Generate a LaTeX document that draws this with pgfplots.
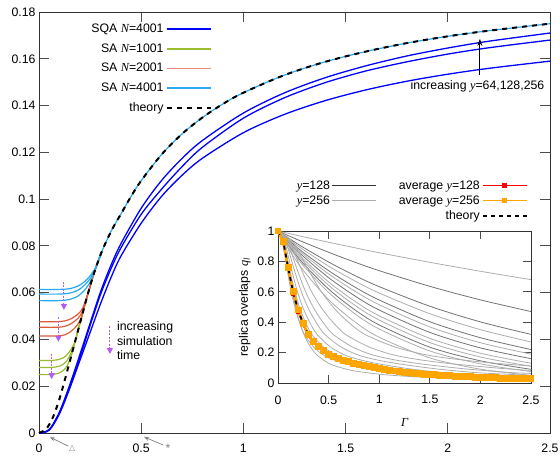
\documentclass[border=0pt]{standalone}
\usepackage{fontspec}
\setmainfont{Liberation Sans}
\newfontfamily\tms{Liberation Serif}
\newfontfamily\djv{DejaVu Sans}
\usepackage{pgfplots}
\pgfplotsset{compat=1.18}
\usepackage{pgfplotstable}
\usetikzlibrary{arrows.meta}

\definecolor{colSQA}{RGB}{0,0,255}
\definecolor{colSAone}{RGB}{155,187,49}
\definecolor{colSAtwo}{RGB}{222,90,60}
\definecolor{colSAfour}{RGB}{40,170,240}
\definecolor{colArrow}{RGB}{180,90,250}
\definecolor{colAvg}{RGB}{255,165,0}
\definecolor{colDark}{gray}{0.45}
\definecolor{colLight}{gray}{0.68}

\newcommand{\mi}[1]{{\tms\itshape #1}}
\newcommand{\fs}{\fontsize{12.3}{14.7}\selectfont}

% average overlap (y=256) and theory, inset
\pgfplotstableread{
G    q
0    1
0.05 0.93
0.1  0.76
0.15 0.60
0.2  0.48
0.25 0.39
0.3  0.32
0.35 0.275
0.4  0.24
0.45 0.213
0.5  0.19
0.55 0.174
0.6  0.16
0.65 0.149
0.7  0.139
0.75 0.13
0.8  0.122
0.85 0.115
0.9  0.108
0.95 0.101
1.0  0.095
1.05 0.089
1.1  0.084
1.15 0.079
1.2  0.074
1.25 0.07
1.3  0.067
1.35 0.064
1.4  0.061
1.45 0.058
1.5  0.056
1.55 0.0538
1.6  0.0516
1.65 0.0494
1.7  0.0472
1.75 0.045
1.8  0.0434
1.85 0.0418
1.9  0.0402
1.95 0.0386
2.0  0.037
2.05 0.0358
2.1  0.0346
2.15 0.0334
2.2  0.0322
2.25 0.031
2.3  0.0302
2.35 0.0294
2.4  0.0286
2.45 0.0278
2.5  0.027
}\avgtbl

% exponential-like fan, inset (columns = runs)
\pgfplotstableread{
G    a    b    c    d    e    f    g    h    i    j    k    l
0    1    1    1    1    1    1    1    1    1    1    1    1
0.1  .985 .970 .955 .949 .941 .936 .929 .922 .915 .908 .902 .887
0.25 .962 .927 .892 .877 .859 .847 .833 .816 .802 .786 .772 .741
0.5  .926 .860 .796 .769 .739 .718 .693 .665 .643 .618 .596 .549
0.75 .891 .797 .710 .675 .635 .608 .577 .542 .516 .486 .460 .407
1.0  .857 .739 .634 .592 .546 .515 .480 .442 .414 .382 .355 .301
1.5  .794 .636 .505 .456 .403 .369 .333 .294 .266 .236 .211 .165
2.0  .735 .547 .402 .351 .298 .265 .231 .196 .171 .146 .126 .091
2.5  .680 .470 .320 .270 .220 .190 .160 .130 .110 .090 .075 .050
}\fantbl

% main-panel theory curve
\pgfplotstableread{
x     y
0     0
0.03  0.0013
0.05  0.0036
0.07  0.0071
0.1   0.0145
0.135 0.0255
0.168 0.0363
0.19  0.0435
0.209 0.0497
0.23  0.0566
0.266 0.0675
0.307 0.0775
0.356 0.0868
0.4   0.0935
0.45  0.1011
0.5   0.1079
0.6   0.1191
0.7   0.1279
0.8   0.1349
0.9   0.1407
1.0   0.1455
1.2   0.153
1.4   0.1587
1.6   0.1631
1.8   0.1667
2.0   0.1696
2.2   0.172
2.5   0.175
}\thtbl

\pgfplotsset{
  gp/.style={
    scale only axis, clip=false,
    axis line style={black!80, line width=0.8pt},
    tick style={black!70, line width=0.8pt},
    tick align=inside,
    tick label style={font=\fs},
    /pgf/number format/assume math mode=true,
    label style={font=\fs},
    legend style={font=\fs, draw=none, fill=none},
    legend plot pos=right, legend cell align=right,
  },
}

\begin{document}
\begin{tikzpicture}
\path[use as bounding box] (-39pt,-25pt) rectangle (521pt,433pt);

\begin{axis}[gp, at={(0pt,0pt)}, anchor=south west,
  width=511pt, height=421pt,
  xmin=0, xmax=2.5, ymin=0, ymax=0.18,
  xtick={0,0.5,1,1.5,2,2.5},
  ytick={0,0.02,0.04,0.06,0.08,0.1,0.12,0.14,0.16,0.18},
  scaled y ticks=false,
  yticklabel style={/pgf/number format/fixed, /pgf/number format/precision=2},
  xticklabel style={yshift=-7.5pt},
  major tick length=10pt,
  legend image code/.code={\draw[mark repeat=2,mark phase=2,#1] plot coordinates {(0pt,0pt) (22pt,0pt) (44pt,0pt)};},
  legend style={at={(0.344,0.981)}, anchor=north east, /tikz/row sep=5.5pt},
]
\addlegendimage{draw=colSQA, line width=1.5pt}\addlegendentry{SQA \mi{N}=4001}
\addlegendimage{draw=colSAone, line width=1.5pt}\addlegendentry{SA \mi{N}=1001}
\addlegendimage{draw=colSAtwo!70!white, line width=1.5pt}\addlegendentry{SA \mi{N}=2001}
\addlegendimage{draw=colSAfour, line width=1.5pt}\addlegendentry{SA \mi{N}=4001}
\addlegendimage{black, line width=2pt, dash pattern=on 5pt off 5pt}\addlegendentry{theory}

% SA N=1001
\addplot[colSAone, line width=1.2pt, smooth, forget plot] coordinates {(0,.031)(.06,.031)(.1,.0315)(.13,.0328)(.155,.0355)(.175,.0388)(.19,.0437)(.209,.0497)(.23,.0566)(.266,.0675)};
\addplot[colSAone, line width=1.2pt, smooth, forget plot] coordinates {(0,.028)(.06,.028)(.1,.0286)(.13,.0302)(.155,.0338)(.175,.0386)(.19,.0436)(.209,.0497)(.23,.0566)(.266,.0675)};
\addplot[colSAone, line width=1.2pt, smooth, forget plot] coordinates {(0,.025)(.06,.025)(.1,.0257)(.13,.0277)(.155,.0322)(.175,.0384)(.19,.0435)(.209,.0497)(.23,.0566)(.266,.0675)};
% SA N=2001
\addplot[colSAtwo, line width=1.2pt, smooth, forget plot] coordinates {(0,.0476)(.09,.0476)(.13,.048)(.16,.049)(.19,.0508)(.21,.0528)(.23,.0572)(.25,.0628)(.266,.0675)(.307,.0775)};
\addplot[colSAtwo, line width=1.2pt, smooth, forget plot] coordinates {(0,.0452)(.09,.0452)(.13,.0457)(.16,.0469)(.19,.049)(.21,.0515)(.23,.0568)(.25,.0627)(.266,.0675)(.307,.0775)};
\addplot[colSAtwo, line width=1.2pt, smooth, forget plot] coordinates {(0,.0415)(.09,.0415)(.13,.0421)(.16,.0437)(.19,.0465)(.21,.05)(.23,.0566)(.25,.0627)(.266,.0675)(.307,.0775)};
% SA N=4001
\addplot[colSAfour, line width=1.2pt, smooth, forget plot] coordinates {(0,.0614)(.1,.0614)(.15,.0617)(.19,.0628)(.22,.0645)(.25,.0672)(.275,.0705)(.307,.0775)};
\addplot[colSAfour, line width=1.2pt, smooth, forget plot] coordinates {(0,.0594)(.1,.0594)(.15,.0598)(.19,.061)(.22,.063)(.25,.066)(.275,.0701)(.307,.0775)};
\addplot[colSAfour, line width=1.2pt, smooth, forget plot] coordinates {(0,.0566)(.1,.0566)(.15,.0571)(.19,.0585)(.22,.0608)(.25,.0645)(.27,.069)(.307,.0775)};
\addplot[colSAfour, line width=1.2pt, smooth, forget plot] table[x=x, y=y, restrict x to domain=0.26:2.5] {\thtbl};

% SQA N=4001, y=256,128,64
\addplot[colSQA, line width=1.3pt, smooth, forget plot] coordinates {(0,0)(.05,.0015)(.1,.009)(.15,.0205)(.2,.0335)(.25,.0469)(.3,.0601)(.35,.0713)(.4,.0808)(.5,.0961)(.6,.108)(.7,.1174)(.8,.1251)(1,.1368)(1.2,.1454)(1.4,.1519)(1.6,.157)(1.8,.1612)(2,.1646)(2.2,.1675)(2.5,.171)};
\addplot[colSQA, line width=1.3pt, smooth, forget plot] coordinates {(0,0)(.05,.0013)(.1,.0085)(.15,.0195)(.2,.0322)(.25,.046)(.3,.059)(.35,.0698)(.4,.079)(.5,.0935)(.6,.1043)(.7,.1139)(.8,.1222)(1,.1346)(1.2,.1433)(1.4,.1498)(1.6,.1548)(1.8,.1587)(2,.162)(2.2,.1647)(2.5,.168)};
\addplot[colSQA, line width=1.3pt, smooth, forget plot] coordinates {(0,0)(.05,.0012)(.1,.0082)(.15,.019)(.2,.031)(.25,.043)(.3,.055)(.35,.066)(.4,.0755)(.5,.0897)(.6,.1012)(.7,.1102)(.8,.1175)(1,.1284)(1.2,.1362)(1.4,.1421)(1.6,.1467)(1.8,.1504)(2,.1534)(2.2,.1559)(2.5,.159)};

% theory
\addplot[black, line width=2pt, dash pattern=on 5pt off 5pt, smooth, forget plot] table[x=x, y=y] {\thtbl};

% annotations
\draw[colArrow, line width=1pt, dash pattern=on 2pt off 1.5pt, -{Triangle[length=6pt,width=6pt]}] (axis cs:0.122,0.0647) -- (axis cs:0.122,0.0526);
\draw[colArrow, line width=1pt, dash pattern=on 2pt off 1.5pt, -{Triangle[length=6pt,width=6pt]}] (axis cs:0.095,0.0494) -- (axis cs:0.095,0.039);
\draw[colArrow, line width=1pt, dash pattern=on 2pt off 1.5pt, -{Triangle[length=6pt,width=6pt]}] (axis cs:0.062,0.0338) -- (axis cs:0.062,0.0230);
\draw[colArrow, line width=1pt, dash pattern=on 2pt off 1.5pt, -{Triangle[length=6pt,width=6pt]}] (axis cs:0.347,0.0457) -- (axis cs:0.347,0.0338);
\node[font=\fs, align=left, anchor=west, inner sep=0pt] at (axis cs:0.381,0.0394) {increasing\\simulation\\time};

\draw[black, line width=0.8pt, -{Stealth[length=7pt,width=5pt]}] (axis cs:2.157,0.153) -- (axis cs:2.157,0.1685);
\node[font=\fs] at (axis cs:2.145,0.148) {increasing \mi{y}=64,128,256};

\draw[gray, line width=0.7pt, -{Stealth[length=5pt,width=4pt]}] (axis cs:0.143,-0.0056) -- (axis cs:0.054,-0.0018);
\node[gray, font=\djv\fontsize{8}{8}\selectfont, inner sep=0pt] at (axis cs:0.162,-0.0064) {△};
\draw[gray, line width=0.7pt, -{Stealth[length=5pt,width=4pt]}] (axis cs:0.607,-0.0051) -- (axis cs:0.514,-0.0017);
\node[gray, font=\fs, inner sep=0pt] at (axis cs:0.631,-0.0066) {*};
\end{axis}

% inset
\begin{axis}[gp, at={(239pt,50pt)}, anchor=south west,
  width=253pt, height=152pt,
  xmin=0, xmax=2.5, ymin=0, ymax=1,
  xtick={0,0.5,1,1.5,2,2.5}, ytick={0,0.2,0.4,0.6,0.8,1},
  xticklabel style={yshift=-9pt},
  xlabel style={yshift=-7pt},
  major tick length=8pt,
  xlabel={\mi{Γ}},
  ylabel={replica overlaps \mi{q}\textsubscript{\mi{l}}},
  legend columns=2,
  legend image code/.code={\draw[mark repeat=2,mark phase=2,#1] plot coordinates {(0pt,0pt) (22pt,0pt) (44pt,0pt)};},
  legend style={at={(1,1.36)}, anchor=north east, /tikz/row sep=1pt,
    /tikz/every even column/.append style={column sep=20pt}},
]
\addlegendimage{black!80, line width=0.8pt}\addlegendentry{\mi{y}=128}
\addlegendimage{red, line width=1pt, mark=square*, mark size=1.8pt}\addlegendentry{average \mi{y}=128}
\addlegendimage{colLight, line width=0.8pt}\addlegendentry{\mi{y}=256}
\addlegendimage{colAvg, line width=1pt, mark=square*, mark size=1.8pt}\addlegendentry{average \mi{y}=256}
\addlegendimage{empty legend}\addlegendentry{}
\addlegendimage{black, line width=2pt, dash pattern=on 4pt off 4pt}\addlegendentry{theory}

% fan of single runs
\addplot[colLight, line width=0.8pt, smooth, forget plot] table[x=G, y=a] {\fantbl};
\addplot[colDark, line width=0.8pt, smooth, forget plot] table[x=G, y=b] {\fantbl};
\addplot[colDark, line width=0.8pt, smooth, forget plot] table[x=G, y=c] {\fantbl};
\addplot[colLight, line width=0.8pt, smooth, forget plot] table[x=G, y=d] {\fantbl};
\addplot[colDark, line width=0.8pt, smooth, forget plot] table[x=G, y=e] {\fantbl};
\addplot[colLight, line width=0.8pt, smooth, forget plot] table[x=G, y=f] {\fantbl};
\addplot[colDark, line width=0.8pt, smooth, forget plot] table[x=G, y=g] {\fantbl};
\addplot[colLight, line width=0.8pt, smooth, forget plot] table[x=G, y=h] {\fantbl};
\addplot[colLight, line width=0.8pt, smooth, forget plot] table[x=G, y=i] {\fantbl};
\addplot[colDark, line width=0.8pt, smooth, forget plot] table[x=G, y=j] {\fantbl};
\addplot[colLight, line width=0.8pt, smooth, forget plot] table[x=G, y=k] {\fantbl};
\addplot[colLight, line width=0.8pt, smooth, forget plot] table[x=G, y=l] {\fantbl};
\addplot[colLight, line width=0.8pt, smooth, forget plot] coordinates {(0,1)(.143,.93)(.286,.76)(.429,.60)(.571,.48)(.714,.39)(.857,.32)(1.143,.24)(1.429,.19)(1.714,.16)(2.143,.13)(2.5,.112)};
\addplot[colLight, line width=0.8pt, smooth, forget plot] coordinates {(0,1)(.111,.93)(.222,.76)(.333,.60)(.444,.48)(.556,.39)(.667,.32)(.889,.24)(1.111,.19)(1.333,.16)(1.667,.13)(2.222,.095)(2.5,.083)};
\addplot[colLight, line width=0.8pt, smooth, forget plot] coordinates {(0,1)(.091,.93)(.182,.76)(.273,.60)(.364,.48)(.455,.39)(.545,.32)(.727,.24)(.909,.19)(1.091,.16)(1.364,.13)(1.818,.095)(2.273,.07)(2.5,.063)};
\addplot[colLight, line width=0.8pt, smooth, forget plot] coordinates {(0,1)(.077,.93)(.154,.76)(.231,.60)(.308,.48)(.385,.39)(.462,.32)(.615,.24)(.769,.19)(.923,.16)(1.154,.13)(1.538,.095)(1.923,.07)(2.308,.056)(2.5,.0505)};
\addplot[colLight, line width=0.8pt, smooth, forget plot] coordinates {(0,1)(.064,.93)(.128,.76)(.192,.60)(.256,.48)(.321,.39)(.385,.32)(.513,.24)(.641,.19)(.769,.16)(.962,.13)(1.282,.095)(1.603,.07)(1.923,.056)(2.244,.045)(2.5,.039)};
\addplot[colLight, line width=0.8pt, smooth, forget plot] coordinates {(0,1)(.056,.93)(.111,.76)(.167,.60)(.222,.48)(.278,.39)(.333,.32)(.444,.24)(.556,.19)(.667,.16)(.833,.13)(1.111,.095)(1.389,.07)(1.667,.056)(1.944,.045)(2.222,.037)(2.5,.031)};
\addplot[colLight, line width=0.8pt, smooth, forget plot] coordinates {(0,1)(.043,.93)(.087,.76)(.13,.60)(.174,.48)(.217,.39)(.261,.32)(.348,.24)(.435,.19)(.522,.16)(.652,.13)(.87,.095)(1.087,.07)(1.304,.056)(1.522,.045)(1.739,.037)(1.957,.031)(2.174,.027)(2.5,.022)};
\addplot[colLight, line width=0.8pt, smooth, forget plot] coordinates {(0,1)(.05,.93)(.1,.75)(.15,.57)(.2,.43)(.25,.33)(.3,.26)(.35,.21)(.4,.175)(.5,.13)(.6,.105)(.75,.08)(1,.058)(1.25,.045)(1.5,.036)(2,.026)(2.5,.02)};

% averages and theory
\addplot[red, line width=1.5pt, mark=square*, mark size=1.5pt, forget plot] coordinates {(0,1)(.05,.93)(.1,.75)(.15,.59)(.2,.47)(.25,.38)(.3,.31)(.4,.23)(.5,.18)(.6,.15)(.75,.12)(1,.087)(1.25,.064)(1.5,.05)(1.75,.04)(2,.032)(2.25,.027)(2.5,.023)};
\addplot[colAvg, line width=2.5pt, mark=square*, mark size=2.2pt, forget plot] table[x=G, y=q] {\avgtbl};
\addplot[black, line width=1.8pt, dash pattern=on 4pt off 4pt, smooth, forget plot] table[x=G, y=q] {\avgtbl};
\end{axis}
\end{tikzpicture}
\end{document}
